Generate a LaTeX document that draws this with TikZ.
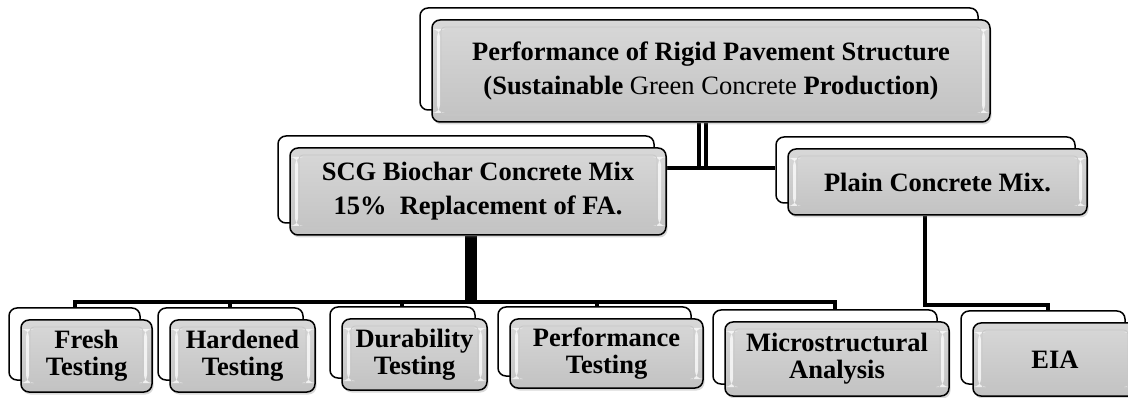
\documentclass[tikz,border=0pt]{standalone}
\usepackage{fontspec}
\setmainfont{Liberation Serif}
\usetikzlibrary{shadows,backgrounds}
\definecolor{boxtop}{RGB}{216,216,216}
\definecolor{boxbot}{RGB}{194,194,194}
\tikzset{
  backbox/.style={draw=black, line width=1.5pt, fill=white, rounded corners=8pt, inner sep=0pt},
  frontbox/.style={draw=black, line width=1.5pt, top color=boxtop, bottom color=boxbot,
    rounded corners=8pt, inner sep=0pt, align=center,
    font=\bfseries\fontsize{26.5}{27}\selectfont,
    drop shadow={shadow xshift=1.5pt, shadow yshift=-2.5pt, opacity=0.3},
    path picture={
      \fill[white, opacity=0.75] ([xshift=5pt,yshift=-9pt]path picture bounding box.north west) rectangle ([xshift=8pt,yshift=9pt]path picture bounding box.south west);
      \fill[white, opacity=0.75] ([xshift=-5pt,yshift=-9pt]path picture bounding box.north east) rectangle ([xshift=-8pt,yshift=9pt]path picture bounding box.south east);
      \draw[black!22, line width=0.8pt, rounded corners=4pt] ([xshift=9pt,yshift=-7pt]path picture bounding box.north west) rectangle ([xshift=-9pt,yshift=7pt]path picture bounding box.south east);
    }},
  bigtext/.style={font=\bfseries\fontsize{26.5}{34}\selectfont},
  conn/.style={draw=black, line width=4pt},
  dbl/.style={draw=black, line width=4pt, double=white, double distance=3pt},
  stem/.style={draw=black, line width=12pt},
}
% [options] name x1 y1 x2 y2 text
\newcommand\pairbox[7][]{%
  \node[backbox, minimum width={#5-#3}, minimum height={#6-#4}] (#2b) at ({(#3+#5)/2-12},{(#4+#6)/2-12}) {};
  \node[frontbox, minimum width={#5-#3}, minimum height={#6-#4}, #1] (#2) at ({(#3+#5)/2},{(#4+#6)/2}) {#7};
}
\begin{document}
\begin{tikzpicture}[x=1pt, y=-1pt]
\useasboundingbox (0,0) rectangle (1128,398);

\pairbox[bigtext]{top}{432}{20}{990}{122}{Performance of Rigid Pavement Structure\\(Sustainable {\mdseries Green Concrete} Production)}
\pairbox[bigtext]{scg}{290}{148}{666}{235}{SCG Biochar Concrete Mix\\15\%\ \ Replacement of FA.}
\pairbox{plain}{788}{149}{1087}{215}{Plain Concrete Mix.}

\pairbox{fresh}{21}{320}{152}{392}{Fresh\\Testing}
\pairbox{hard}{170}{320}{315}{392}{Hardened\\Testing}
\pairbox{dura}{342}{319}{487}{390}{Durability\\Testing}
\pairbox{perf}{510}{319}{703}{388}{Performance\\Testing}
\pairbox{micro}{725}{322}{949}{396}{Microstructural\\Analysis}
\pairbox{eia}{973}{323}{1137}{396}{EIA}

\begin{scope}[on background layer]
  \coordinate (j1) at (702,168);
  \draw[dbl] (top.south -| j1) -- (j1);
  \draw[conn] (scg.east |- j1) -- (plainb.west |- j1);

  \coordinate (j2) at (471,302);
  \coordinate (bF) at (75,302);
  \coordinate (bH) at (230,302);
  \coordinate (bD) at (402,302);
  \coordinate (bP) at (597,302);
  \coordinate (bM) at (835,302);
  \draw[stem] (scg.south -| j2) -- (j2);
  \draw[conn, line join=miter] (freshb.north -| bF) -- (bF) -- (bM) -- (microb.north -| bM);
  \draw[conn] (bH) -- (hardb.north -| bH);
  \draw[conn] (bD) -- (durab.north -| bD);
  \draw[conn] (bP) -- (perfb.north -| bP);

  \coordinate (p1) at (925,305);
  \coordinate (p2) at (1048,305);
  \draw[conn, line join=miter] (plain.south -| p1) -- (p1) -- (p2) -- (eiab.north -| p2);
\end{scope}
\end{tikzpicture}
\end{document}
